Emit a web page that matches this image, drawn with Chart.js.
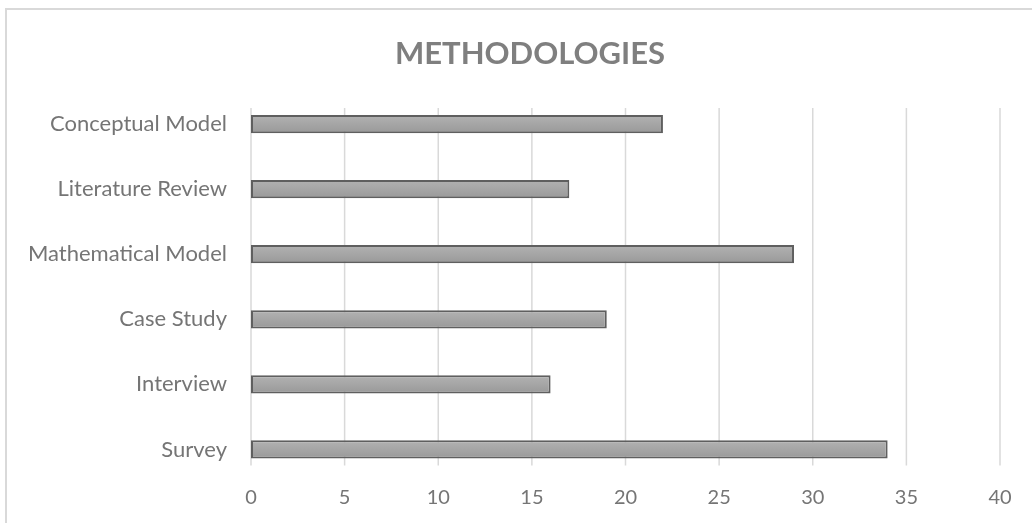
<!DOCTYPE html>
<html lang="en">
<head>
    <meta charset="UTF-8">
    <title>Methodologies</title>
    <script src="https://cdn.jsdelivr.net/npm/chart.js"></script>
    <style>
        html, body {
            margin: 0;
            padding: 0;
            overflow: hidden;
            background: #ffffff;
        }
        #frame {
            position: absolute;
            left: 5px;
            top: 8px;
            width: 1100px;
            height: 600px;
            border: 2px solid #d9d9d9;
        }
        #chartBox {
            position: absolute;
            left: 0;
            top: 0;
            width: 1032px;
            height: 523px;
        }
    </style>
</head>
<body>
    <div id="frame"></div>
    <div id="chartBox">
        <canvas id="methodChart" width="1032" height="523"></canvas>
    </div>

    <script>
        // data, top to bottom as in the picture
        const categories = ['Conceptual Model', 'Literature Review', 'Mathematical Model', 'Case Study', 'Interview', 'Survey'];
        const counts = [22, 17, 29, 19, 16, 34];
        const xTicks = [0, 5, 10, 15, 20, 25, 30, 35, 40];

        const fontFamily = 'Lato, "Open Sans", sans-serif';

        function barFill(ctx) {
            const chart = ctx.chart;
            const y = chart.scales && chart.scales.y;
            if (!y || y.top === undefined) {
                return '#a5a5a5';
            }
            const yc = y.getPixelForValue(ctx.dataIndex);
            const g = chart.ctx.createLinearGradient(0, yc - 9, 0, yc + 9);
            g.addColorStop(0, '#b2b2b2');
            g.addColorStop(1, '#999999');
            return g;
        }

        // excel-style gridlines that stop short of the plot edges,
        // and the title centred on the whole chart frame
        const excelLook = {
            id: 'excelLook',
            afterLayout(chart) {
                if (chart.titleBlock) {
                    chart.titleBlock.left = 0;
                    chart.titleBlock.right = 1060;
                }
            },
            beforeDatasetsDraw(chart) {
                const x = chart.scales.x;
                const area = chart.chartArea;
                const c = chart.ctx;
                c.save();
                c.strokeStyle = '#d9d9d9';
                c.lineWidth = 1.5;
                xTicks.forEach(v => {
                    const px = x.getPixelForValue(v);
                    c.beginPath();
                    c.moveTo(px, area.top + 16.5);
                    c.lineTo(px, area.bottom - 16.5);
                    c.stroke();
                });
                c.restore();
            }
        };

        const ctx = document.getElementById('methodChart').getContext('2d');
        const myChart = new Chart(ctx, {
            type: 'bar',
            data: {
                labels: categories,
                datasets: [{
                    label: 'Methodologies',
                    data: counts,
                    backgroundColor: barFill,
                    borderColor: '#5f5f5f',
                    borderWidth: 2,
                    borderSkipped: false,
                    barPercentage: 0.28,
                    categoryPercentage: 1
                }]
            },
            plugins: [excelLook],
            options: {
                indexAxis: 'y',
                responsive: false,
                animation: false,
                layout: {
                    padding: { left: 0, right: 32, top: 0, bottom: 0 }
                },
                scales: {
                    x: {
                        min: 0,
                        max: 40,
                        afterBuildTicks: axis => {
                            axis.ticks = xTicks.map(v => ({ value: v }));
                        },
                        afterFit: axis => { axis.height = 41; },
                        grid: { display: false, drawTicks: false },
                        border: { display: false },
                        ticks: {
                            color: '#757575',
                            font: { family: fontFamily, size: 20 },
                            padding: 4,
                            maxRotation: 0
                        }
                    },
                    y: {
                        afterFit: axis => { axis.width = 251; },
                        grid: { display: false, drawTicks: false },
                        border: { display: false },
                        ticks: {
                            color: '#757575',
                            font: { family: fontFamily, size: 22 },
                            padding: 24
                        }
                    }
                },
                plugins: {
                    legend: { display: false },
                    tooltip: { enabled: false },
                    title: {
                        display: true,
                        text: 'METHODOLOGIES',
                        color: '#7f7f7f',
                        font: { family: fontFamily, size: 31, weight: 'bold', lineHeight: 1.2 },
                        padding: { top: 35, bottom: 19.3 }
                    }
                }
            }
        });
    </script>
</body>
</html>
